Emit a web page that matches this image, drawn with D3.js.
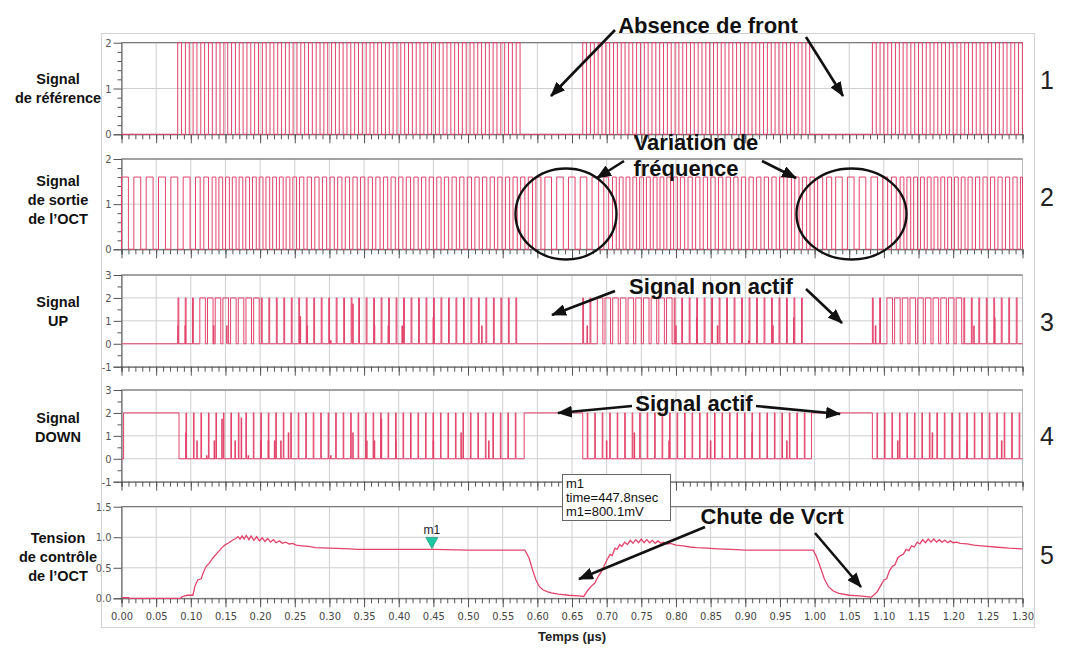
<!DOCTYPE html>
<html><head><meta charset="utf-8">
<script src="https://cdn.jsdelivr.net/npm/d3@7"></script>
<style>
body{margin:0;background:#fff;}
svg{display:block;font-family:"Liberation Sans",Arial,sans-serif;}
</style>
</head><body>
<svg id="c" width="1072" height="648"></svg>
<script>
// ---------------- DATA ----------------
const timeDomain = [0, 1.3];
const xMajorTicks = d3.range(0, 1.3001, 0.05);
const xTickLabels = xMajorTicks.map(d => d.toFixed(2));
const xMinorTicks = d3.range(0, 1.3001, 0.01);

const panelNames = [["Signal","de référence"],["Signal","de sortie","de l’OCT"],["Signal","UP"],["Signal","DOWN"],["Tension","de contrôle","de l’OCT"]];
const panelNumbers = ["1","2","3","4","5"];
const yDomains = [[0,2],[0,2],[-1,3],[-1,3],[0,1.5]];
const yTicks = [[0,1,2],[0,1,2],[-1,0,1,2,3],[-1,0,1,2,3],[0,0.5,1,1.5]];
const yTickLabels = [["0","1","2"],["0","1","2"],["-1","0","1","2","3"],["-1","0","1","2","3"],["0.0","0.5","1.0","1.5"]];
const yMinorStep = [0.2, 0.2, 0.5, 0.5, 0];

// Reference signal: bursts of a fixed-period clock (0 / 2)
const refBurstStart = [0.0811, 0.6655, 1.0834];
const refBurstEnd   = [0.5775, 0.9945, 1.30];
const refPeriod = 0.0111;
const refHigh = 2;

// OCT output: continuous, period changes over time (0 / 1.6)
const octSegStart  = [0,      0.105, 0.13,   0.25,  0.59,  0.61,  0.685, 0.70,   0.80,  1.00,  1.02,  1.095, 1.12,   1.22];
const octSegEnd    = [0.105,  0.13,  0.25,   0.59,  0.61,  0.685, 0.70,  0.80,   1.00,  1.02,  1.095, 1.12,  1.22,   1.30];
const octSegPeriod = [0.0178, 0.0120,0.0097, 0.0110,0.0130,0.0170,0.0125,0.0098, 0.0110,0.0130,0.0170,0.0125,0.0098, 0.0108];
const octHigh = 1.6;
const octDuty = 0.56;

// UP: pulse segments (start, end, period, pulse width)
const upSegStart  = [0.0815, 0.103, 0.20,  0.6655, 0.685, 0.79,  1.0834, 1.097, 1.21];
const upSegEnd    = [0.103,  0.20,  0.577, 0.685,  0.79,  0.988, 1.097,  1.21,  1.30];
const upSegPeriod = [0.0105, 0.0111,0.0108,0.0105, 0.0111,0.0108,0.0105, 0.0111,0.0108];
const upSegWidth  = [0.0012, 0.0080,0.0012,0.0012, 0.0080,0.0012,0.0012, 0.0080,0.0012];
const upHigh = 2;
const upPartialT = [0.0815,0.092,0.133,0.152,0.258,0.268,0.302,0.334,0.365,0.385,0.405,0.45,0.52,0.672,0.80,0.83,0.86,0.905,0.94,0.97,1.088,1.23,1.26];
const upPartialV = [0.8,   0.8,  0.8,  0.8,  1.2,  0.8,  0.15, 1.75, 0.8,  0.8,  0.8,  1.15,0.8, 0.8,  0.8, 1.15,0.8, 0.15, 0.8, 1.15,0.8,  0.8, 1.15];

// DOWN: held-high intervals and spike segments
const downHighStart = [0.003, 0.581, 0.9955];
const downHighEnd   = [0.083, 0.6655, 1.0834];
const downSpikeStart = [0.093, 0.672, 1.090];
const downSpikeEnd   = [0.578, 0.993, 1.300];
const downSpikePeriod = [0.0108, 0.0108, 0.0108];
const downSpikeWidth = 0.0009;
const downHigh = 2;
const downPartialT = [0.093,0.109,0.123,0.134,0.145,0.164,0.173,0.183,0.201,0.212,0.221,0.230,0.241,0.302,0.334,0.354,0.365,0.375,0.396,0.45,0.49,0.53,0.70,0.74,0.79,0.85,0.91,0.96,1.12,1.17,1.22,1.27];
const downPartialV = [1.15, 0.8,  0.15, 0.8,  1.75, 0.8,  1.8,  0.15, 0.8,  0.8,  0.8,  0.8,  1.15, 0.15, 1.15, 0.8,  0.8,  1.75, 0.8,  0.8, 1.15,0.8, 0.8, 1.15,0.8, 0.8, 1.15,0.8, 0.8, 1.15,0.8, 0.8];

// Control voltage Vcrt (V)
const vcrtSamples = [[0,0.01],[0.01,0.01],[0.012,0],[0.085,0],[0.088,0.03],[0.095,0.05],[0.103,0.05],[0.106,0.2],[0.11,0.3],[0.115,0.32],[0.118,0.42],[0.122,0.52],[0.127,0.58],[0.132,0.66],[0.138,0.74],[0.145,0.83],[0.15,0.88],[0.155,0.91],[0.16,0.95],[0.165,0.98],[0.168,1.01],[0.171,0.97],[0.174,1.02],[0.177,0.97],[0.18,1.03],[0.184,0.96],[0.187,1.02],[0.191,0.95],[0.195,1.01],[0.199,0.94],[0.203,0.99],[0.207,0.93],[0.211,0.98],[0.215,0.92],[0.219,0.96],[0.223,0.91],[0.228,0.94],[0.232,0.9],[0.237,0.92],[0.242,0.89],[0.247,0.9],[0.252,0.87],[0.26,0.86],[0.27,0.85],[0.28,0.83],[0.3,0.82],[0.33,0.81],[0.34,0.8],[0.4,0.8],[0.45,0.8],[0.5,0.79],[0.582,0.79],
[0.588,0.66],[0.593,0.47],[0.598,0.3],[0.603,0.19],[0.608,0.14],[0.614,0.11],[0.62,0.09],[0.63,0.07],[0.645,0.05],[0.66,0.04],[0.667,0.03],[0.672,0.12],[0.678,0.2],[0.683,0.25],[0.688,0.36],[0.693,0.45],[0.7,0.62],[0.705,0.72],[0.708,0.7],[0.712,0.82],[0.715,0.8],[0.719,0.88],[0.722,0.85],[0.726,0.92],[0.73,0.88],[0.734,0.95],[0.738,0.9],[0.742,0.96],[0.746,0.91],[0.75,0.97],[0.754,0.91],[0.758,0.96],[0.762,0.91],[0.766,0.95],[0.77,0.9],[0.774,0.94],[0.778,0.9],[0.782,0.92],[0.787,0.89],[0.792,0.9],[0.8,0.87],[0.81,0.86],[0.82,0.84],[0.83,0.83],[0.845,0.82],[0.86,0.81],[0.88,0.8],[0.9,0.79],[0.95,0.79],[0.998,0.79],
[1.002,0.7],[1.008,0.52],[1.014,0.32],[1.02,0.19],[1.027,0.12],[1.035,0.08],[1.05,0.05],[1.065,0.04],[1.082,0.02],[1.09,0.1],[1.095,0.2],[1.1,0.3],[1.104,0.32],[1.108,0.45],[1.112,0.52],[1.116,0.55],[1.12,0.66],[1.124,0.7],[1.128,0.72],[1.132,0.8],[1.136,0.78],[1.14,0.86],[1.144,0.84],[1.148,0.92],[1.152,0.89],[1.156,0.96],[1.16,0.91],[1.164,0.97],[1.168,0.92],[1.172,0.97],[1.176,0.92],[1.18,0.96],[1.184,0.92],[1.188,0.95],[1.192,0.91],[1.196,0.94],[1.2,0.91],[1.205,0.92],[1.21,0.9],[1.22,0.89],[1.23,0.87],[1.24,0.86],[1.25,0.85],[1.26,0.84],[1.28,0.82],[1.3,0.81]];

const markerT = 0.4478, markerV = 0.8001;
const markerLines = ["m1","time=447.8nsec","m1=800.1mV"];

// ---------------- LAYOUT ----------------
const svg = d3.select("#c");
const panelPx = [[42.7,134.3],[159,249.3],[275,366.7],[390,481.7],[506.7,598.3]];
const X0 = 121.5, X1 = 1022.5;
const x = d3.scaleLinear().domain(timeDomain).range([X0, X1]);
const ys = yDomains.map((d,i) => d3.scaleLinear().domain(d).range([panelPx[i][1], panelPx[i][0]]));
const SIG = "#e3436b";

// outer box
svg.append("rect").attr("x",101.5).attr("y",33.5).attr("width",933).attr("height",594)
  .attr("fill","#fff").attr("stroke","#d2d2d2");

// helpers
function trainBlocks(starts, ends, periods, widths){
  const blocks=[]; let carry=-1;
  for(let i=0;i<starts.length;i++){
    let t=Math.max(starts[i],carry);
    const w = Array.isArray(widths)? widths[i] : widths;
    while(t<ends[i]-1e-9){
      const ww = (typeof w==="function")? w(periods[i]) : w;
      blocks.push([t, Math.min(t+ww, timeDomain[1])]);
      t+=periods[i]; carry=t;
    }
  }
  return blocks;
}
function blocksToPoints(blocks, high){
  blocks.sort((a,b)=>a[0]-b[0]);
  const pts=[[timeDomain[0],0]];
  blocks.forEach(b=>{pts.push([b[0],0],[b[0],high],[b[1],high],[b[1],0]);});
  pts.push([timeDomain[1],0]);
  return pts;
}

// signals
const refBlocks = trainBlocks(refBurstStart, refBurstEnd, refBurstStart.map(()=>refPeriod), refPeriod/2);
const octBlocks = trainBlocks(octSegStart, octSegEnd, octSegPeriod, p=>p*octDuty);
const upBlocks = trainBlocks(upSegStart, upSegEnd, upSegPeriod, upSegWidth);
const downBlocks = downHighStart.map((s,i)=>[s, downHighEnd[i]])
   .concat(trainBlocks(downSpikeStart, downSpikeEnd, downSpikePeriod, downSpikeWidth));
const series = [
  blocksToPoints(refBlocks, refHigh),
  blocksToPoints(octBlocks, octHigh),
  blocksToPoints(upBlocks, upHigh),
  blocksToPoints(downBlocks, downHigh),
  vcrtSamples
];

// draw panels
panelPx.forEach((pp,i)=>{
  const y = ys[i];
  const g = svg.append("g");
  // grid
  g.append("g").selectAll("line").data(xMajorTicks.filter(d=>d>0 && d<1.3)).join("line")
    .attr("x1",d=>x(d)).attr("x2",d=>x(d)).attr("y1",pp[0]).attr("y2",pp[1])
    .attr("stroke","#cfcfcf").attr("stroke-width",1);
  g.append("g").selectAll("line").data(yTicks[i].slice(1,-1)).join("line")
    .attr("x1",X0).attr("x2",X1).attr("y1",d=>y(d)).attr("y2",d=>y(d))
    .attr("stroke","#cfcfcf").attr("stroke-width",1);
  // frame
  g.append("rect").attr("x",X0).attr("y",pp[0]).attr("width",X1-X0).attr("height",pp[1]-pp[0])
    .attr("fill","none").attr("stroke","#b8b8b8");
  g.append("line").attr("x1",X0).attr("x2",X1).attr("y1",pp[0]).attr("y2",pp[0]).attr("stroke","#6a6a6a");
  // y axis
  const yax = d3.axisLeft(y).tickValues(yTicks[i]).tickSize(8).tickPadding(2)
     .tickFormat((d,k)=>yTickLabels[i][k]);
  const ga = g.append("g").attr("transform",`translate(${X0},0)`).call(yax);
  ga.select(".domain").attr("stroke","#555");
  ga.selectAll(".tick line").attr("stroke","#555").filter(d=>d===yDomains[i][1]).remove();
  ga.selectAll("text").attr("font-family","'Liberation Sans Narrow','DejaVu Sans Condensed',sans-serif")
    .attr("font-size",11).attr("fill","#555");
  if(yMinorStep[i]>0){
    const minors = d3.range(yDomains[i][0], yDomains[i][1]+1e-9, yMinorStep[i]).filter(v=>!yTicks[i].some(t=>Math.abs(t-v)<1e-6));
    const gm = g.append("g").attr("transform",`translate(${X0},0)`).call(d3.axisLeft(y).tickValues(minors).tickSize(4).tickFormat(""));
    gm.select(".domain").remove(); gm.selectAll("line").attr("stroke","#555");
  }
  // x axis
  const gx = g.append("g").attr("transform",`translate(0,${pp[1]})`)
    .call(d3.axisBottom(x).tickValues(xMinorTicks).tickSize(5).tickFormat(""));
  gx.select(".domain").attr("stroke","#555");
  gx.selectAll("line").attr("stroke","#555");
  const gx2 = g.append("g").attr("transform",`translate(0,${pp[1]})`)
    .call(d3.axisBottom(x).tickValues(xMajorTicks).tickSize(9).tickPadding(5)
      .tickFormat((d,k)=> i===4 ? xTickLabels[k] : ""));
  gx2.select(".domain").remove();
  gx2.selectAll("line").attr("stroke","#555");
  gx2.selectAll("text").attr("font-family","'Liberation Sans Narrow','DejaVu Sans Condensed',sans-serif")
    .attr("font-size",11).attr("fill","#444");

  // signal
  const line = d3.line().x(d=>x(d[0])).y(d=>y(d[1]));
  g.append("path").attr("d",line(series[i])).attr("fill","none").attr("stroke",SIG)
    .attr("stroke-width", i===4?1.3:1);

  // left name
  const nt = svg.append("text").attr("text-anchor","middle").attr("font-weight","bold")
    .attr("font-size",14.5).attr("fill","#111");
  const n = panelNames[i].length;
  const centers = [88,200,311,427,557][i];
  panelNames[i].forEach((s,k)=>{
    nt.append("tspan").attr("x",58).attr("y",centers-(n-1)*9.5+k*19+5).text(s);
  });
  // right number
  svg.append("text").attr("x",1047).attr("y",[89,206,331,445,564][i]).attr("text-anchor","middle")
    .attr("font-size",25).attr("fill","#222").text(panelNumbers[i]);
});

// partial spikes on UP / DOWN
svg.append("g").selectAll("line").data(upPartialT).join("line")
  .attr("x1",d=>x(d)).attr("x2",d=>x(d)).attr("y1",ys[2](0)).attr("y2",(d,k)=>ys[2](upPartialV[k]))
  .attr("stroke",SIG).attr("stroke-width",1.6);
svg.append("g").selectAll("line").data(downPartialT).join("line")
  .attr("x1",d=>x(d)).attr("x2",d=>x(d)).attr("y1",ys[3](0)).attr("y2",(d,k)=>ys[3](downPartialV[k]))
  .attr("stroke",SIG).attr("stroke-width",1.6);

// x title
svg.append("text").attr("x",572).attr("y",641).attr("text-anchor","middle").attr("font-weight","bold")
  .attr("font-size",13).attr("fill","#222").text("Temps (µs)");

// marker m1
const mx = x(markerT), my = ys[4](markerV);
svg.append("path").attr("d",`M${mx-6},${my-12}L${mx+6},${my-12}L${mx},${my-1}Z`).attr("fill","#1fc7a2").attr("stroke","#0a8a70").attr("stroke-width",0.6);
svg.append("text").attr("x",mx).attr("y",my-15).attr("text-anchor","middle").attr("font-size",12).attr("fill","#222").text("m1");
svg.append("rect").attr("x",562.5).attr("y",474.5).attr("width",108).attr("height",46).attr("fill","#fff").attr("stroke","#666");
markerLines.forEach((s,k)=>svg.append("text").attr("x",566).attr("y",488+k*14).attr("font-size",13).attr("fill","#111").text(s));

// annotations
const defs = svg.append("defs");
defs.append("marker").attr("id","ah").attr("markerUnits","userSpaceOnUse").attr("markerWidth",15).attr("markerHeight",12)
  .attr("refX",14).attr("refY",6).attr("orient","auto")
  .append("path").attr("d","M0,0L15,6L0,12Z").attr("fill","#111");
const arrows = [[615,30,551,96],[806,37,843,96],[624,161,597,178],[762,161,796,178],[615,291,552,315],[806,289,842,323],
                [632,406,558,413],[756,406,840,414],[705,527,579,579],[815,533,861,587]];
svg.append("g").selectAll("line").data(arrows).join("line")
  .attr("x1",d=>d[0]).attr("y1",d=>d[1]).attr("x2",d=>d[2]).attr("y2",d=>d[3])
  .attr("stroke","#111").attr("stroke-width",2.6).attr("marker-end","url(#ah)");
svg.append("ellipse").attr("cx",566).attr("cy",214).attr("rx",50.5).attr("ry",45.5).attr("fill","none").attr("stroke","#111").attr("stroke-width",2.4);
svg.append("ellipse").attr("cx",851.5).attr("cy",214).attr("rx",55).attr("ry",45.5).attr("fill","none").attr("stroke","#111").attr("stroke-width",2.4);
const notes = [["Absence de front",708,33],["Variation de",696,150],["fréquence",686,176],["Signal non actif",711,294],["Signal actif",694,411],["Chute de Vcrt",772,524]];
notes.forEach(n=>svg.append("text").attr("x",n[1]).attr("y",n[2]).attr("text-anchor","middle")
  .attr("font-weight","bold").attr("font-size",22).attr("fill","#111").text(n[0]));
</script>
</body></html>
